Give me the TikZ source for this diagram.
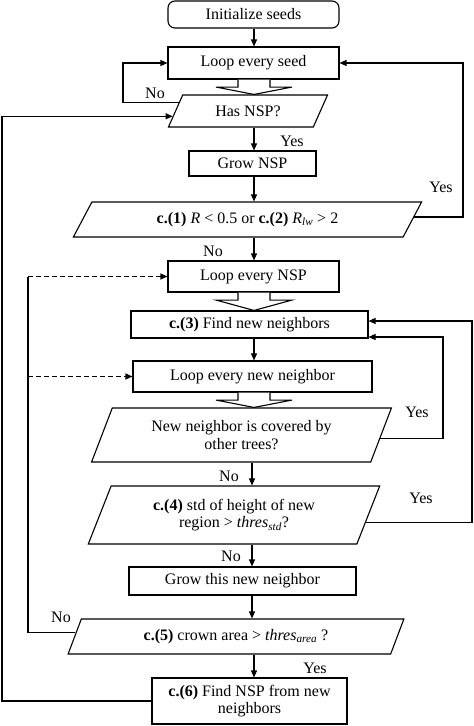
\documentclass[tikz,border=0pt]{standalone}
\usepackage{fontspec}
\setmainfont{Liberation Serif}
\usetikzlibrary{shapes.geometric,arrows.meta,calc}
\begin{document}
\begin{tikzpicture}[x=1pt,y=-1pt,
  every node/.style={font=\fontsize{16}{17.5}\selectfont},
  base/.style={draw,line width=1.1pt,inner sep=0pt,fill=white,align=center},
  box/.style={base,rectangle},
  para/.style={base,trapezium,trapezium stretches=true},
  arr/.style={line width=1.1pt,-{Triangle[length=7pt,width=6pt]}},
  ln/.style={line width=1.1pt},
  lbl/.style={inner sep=0pt},
  dsh/.style={dash pattern=on 5pt off 3pt}
]
\useasboundingbox (0,0) rectangle (474,726);

% nodes
\node[box,rounded corners=7pt,minimum width=171pt,minimum height=27pt] (init) at (253.5,14.5) {Initialize seeds};
\node[box,minimum width=171pt,minimum height=32pt] (seed) at (253.5,63) {Loop every seed};
\node[para,minimum width=160pt,minimum height=32pt,trapezium left angle=56.7,trapezium right angle=123.3] (hasnsp) at (248,111) {Has NSP?};
\node[box,minimum width=127pt,minimum height=25pt] (grow) at (252.5,163.5) {Grow NSP};
\node[para,minimum width=349pt,minimum height=35pt,trapezium left angle=53.4,trapezium right angle=126.6] (c1) at (247.5,219.5) {\textbf{c.(1)} \textit{R} < 0.5 or \textbf{c.(2)} \textit{R}\textsubscript{\textit{lw}} > 2};
\node[box,minimum width=171pt,minimum height=31pt] (loopnsp) at (253.5,276.5) {Loop every NSP};
\node[box,minimum width=237pt,minimum height=27pt] (c3) at (249.5,324.5) {\textbf{c.(3)} Find new neighbors};
\node[box,minimum width=239pt,minimum height=31pt] (loopnn) at (252.5,376.5) {Loop every new neighbor};
\node[para,minimum width=300pt,minimum height=54pt,trapezium left angle=63.4,trapezium right angle=116.6] (cov) at (241.5,435) {New neighbor is covered by\\other trees?};
\node[para,minimum width=292pt,minimum height=58pt,trapezium left angle=65,trapezium right angle=115] (c4) at (234,515) {\textbf{c.(4)} std of height of new\\region > \textit{thres}\textsubscript{\textit{std}}?};
\node[box,minimum width=227pt,minimum height=28pt] (growthis) at (242.5,581) {Grow this new neighbor};
\node[para,minimum width=336pt,minimum height=35pt,trapezium left angle=61.5,trapezium right angle=118.5] (c5) at (236,636.5) {\textbf{c.(5)} crown area > \textit{thres}\textsubscript{\textit{area}} ?};
\node[box,minimum width=195pt,minimum height=46pt] (c6) at (249.5,701) {\textbf{c.(6)} Find NSP from new\\neighbors};

% helper coordinates
\coordinate (colx) at (254,0);
\coordinate (colb) at (252,0);
\coordinate (xL) at (123,0);
\coordinate (xO) at (2,0);
\coordinate (xR1) at (463,0);
\coordinate (xD) at (28,0);
\coordinate (yB) at (443,337);
\coordinate (yC) at (472,321);

% straight arrows
\draw[arr] (init.south -| colx) -- (seed.north -| colx);
\draw[arr] (hasnsp.south -| colx) -- (grow.north -| colx);
\draw[arr] (grow.south -| colx) -- (c1.north -| colx);
\draw[arr] (c1.south -| colx) -- (loopnsp.north -| colx);
\draw[arr] (c3.south -| colx) -- (loopnn.north -| colx);
\draw[arr] (cov.south -| colb) -- (c4.north -| colb);
\draw[arr] (c4.south -| colb) -- (growthis.north -| colb);
\draw[arr] (growthis.south -| colb) -- (c5.north -| colb);
\draw[arr] (c5.south -| colx) -- (c6.north -| colx);

% hollow arrows
\newcommand\hollowarr[2]{%
  \draw[ln,fill=white,line join=miter]
    ($(#1.south -| colx)+(-16,0)$) -- ++(0,7.5) -- ++(-22,0) -- (#2.north -| colx)
    -- ($(#1.south -| colx)+(38,7.5)$) -- ++(-22,0) -- ++(0,-7.5);}
\hollowarr{seed}{hasnsp}
\hollowarr{loopnsp}{c3}
\hollowarr{loopnn}{cov}

% loops
\coordinate (hA) at ($(hasnsp.top left corner)!0.25!(hasnsp.bottom left corner)$);
\draw[arr] (hA) -- (hA -| xL) |- (seed.west);
\coordinate (hB) at ($(hasnsp.top left corner)!0.66!(hasnsp.bottom left corner)$);
\draw[arr] (c6.west) -- (c6.west -| xO) -- (hB -| xO) -- (hB);
\coordinate (cA) at ($(c1.top right corner)!0.43!(c1.bottom right corner)$);
\draw[arr] (cA) -- (cA -| xR1) |- (seed.east);
\coordinate (c5A) at ($(c5.top left corner)!0.4!(c5.bottom left corner)$);
\draw[ln] (c5A) -- (c5A -| xD) -- (loopnsp.west -| xD);
\draw[arr,dsh] (loopnsp.west -| xD) -- (loopnsp.west);
\draw[arr,dsh] (loopnn.west -| xD) -- (loopnn.west);
\coordinate (vA) at ($(cov.top right corner)!0.556!(cov.bottom right corner)$);
\draw[arr] (vA) -- (vA -| yB) -- (yB) -- (yB -| c3.east);
\coordinate (fA) at ($(c4.top right corner)!0.62!(c4.bottom right corner)$);
\draw[arr] (fA) -- (fA -| yC) -- (yC) -- (yC -| c3.east);

% labels
\node[lbl] (no1) at (155,93) {No};
\node[lbl] (yes1) at (292,141) {Yes};
\node[lbl] (yes2) at (441,187) {Yes};
\node[lbl] (no2) at (213,251) {No};
\node[lbl] (yes3) at (417,412) {Yes};
\node[lbl] (no3) at (229,476) {No};
\node[lbl] (yes4) at (421,498) {Yes};
\node[lbl] (no4) at (231,556) {No};
\node[lbl] (no5) at (61,617) {No};
\node[lbl] (yes5) at (315,668) {Yes};
\end{tikzpicture}
\end{document}
